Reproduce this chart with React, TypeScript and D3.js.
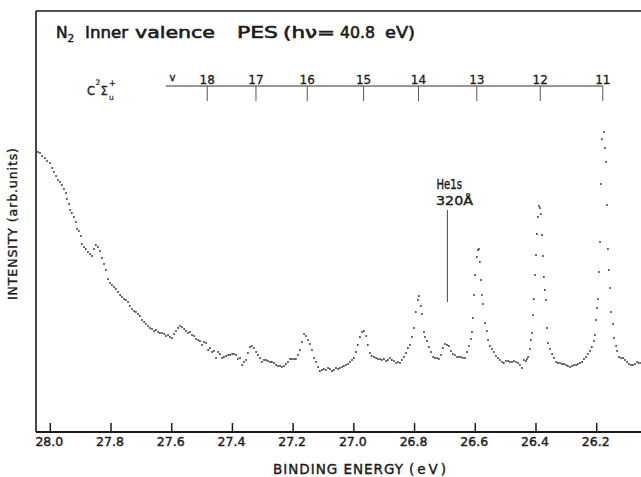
import React from "react";
import * as d3 from "d3";

// Binding energy tick labels (eV)
const energyTicks = [28.0, 27.8, 27.6, 27.4, 27.2, 27.0, 26.8, 26.6, 26.4, 26.2];

// Vibrational ladder of the C 2Σu+ state
const vibLevels = [18, 17, 16, 15, 14, 13, 12, 11];
const vibEnergies = [27.483, 27.3225, 27.1535, 26.968, 26.787, 26.595, 26.386, 26.18];
const ladderStart = 27.619;

// He 1s 320 Å marker
const heMarkerEnergy = 26.692;
const heMarkerTop = 221;
const heMarkerBottom = 129;

// Title words
const titleWords = ["Inner", "valence", "PES", "(hν=", "40.8", "eV)"];

// Spectrum: [binding energy (eV), intensity (arb. units)]
const spectrum: [number, number][] = [
  [28.041, 279], [28.034, 278], [28.027, 275], [28.018, 273], [28.011, 270], [28.001, 268],
  [27.994, 263], [27.988, 259], [27.981, 255], [27.975, 251], [27.968, 249], [27.962, 246],
  [27.955, 242], [27.948, 238], [27.945, 232], [27.938, 227], [27.935, 221], [27.929, 218],
  [27.922, 214], [27.915, 209], [27.912, 202], [27.906, 200], [27.899, 195], [27.896, 187],
  [27.889, 184], [27.883, 182], [27.876, 179], [27.869, 177], [27.863, 175], [27.856, 182],
  [27.85, 186], [27.843, 184], [27.836, 180], [27.83, 173], [27.823, 167], [27.817, 161],
  [27.81, 152], [27.803, 148], [27.797, 146], [27.79, 144], [27.784, 142], [27.777, 139],
  [27.77, 136], [27.764, 134], [27.757, 132], [27.751, 131], [27.744, 129], [27.738, 125],
  [27.731, 122], [27.724, 120], [27.718, 119], [27.711, 117], [27.705, 115], [27.698, 111],
  [27.691, 109], [27.685, 107], [27.678, 105], [27.672, 103], [27.665, 102], [27.658, 100],
  [27.652, 101], [27.645, 99], [27.639, 98], [27.632, 98], [27.625, 97], [27.619, 95],
  [27.612, 96], [27.606, 94], [27.599, 93], [27.592, 97], [27.586, 100], [27.579, 103],
  [27.573, 105], [27.566, 104], [27.559, 102], [27.553, 100], [27.546, 98], [27.54, 99],
  [27.533, 96], [27.526, 95], [27.52, 92], [27.513, 91], [27.507, 90], [27.5, 86],
  [27.494, 89], [27.487, 88], [27.48, 81], [27.474, 83], [27.467, 79], [27.461, 80],
  [27.454, 73], [27.447, 79], [27.441, 77], [27.434, 73], [27.428, 74], [27.421, 75],
  [27.414, 76], [27.408, 76], [27.401, 77], [27.395, 77], [27.388, 76], [27.382, 72],
  [27.375, 73], [27.368, 66], [27.362, 69], [27.355, 71], [27.349, 78], [27.342, 84],
  [27.336, 85], [27.329, 83], [27.322, 79], [27.316, 76], [27.309, 73], [27.303, 69],
  [27.296, 71], [27.289, 71], [27.283, 70], [27.276, 69], [27.27, 69], [27.263, 68],
  [27.256, 66], [27.25, 65], [27.243, 65], [27.237, 64], [27.23, 65], [27.224, 67],
  [27.217, 69], [27.21, 72], [27.204, 72], [27.197, 72], [27.191, 72], [27.184, 76],
  [27.178, 81], [27.171, 89], [27.164, 97], [27.158, 95], [27.151, 91], [27.145, 87],
  [27.138, 81], [27.131, 73], [27.125, 69], [27.118, 64], [27.112, 60], [27.105, 61],
  [27.099, 62], [27.092, 61], [27.085, 63], [27.079, 62], [27.072, 60], [27.066, 61],
  [27.059, 63], [27.052, 62], [27.046, 63], [27.039, 64], [27.033, 65], [27.026, 66],
  [27.019, 67], [27.013, 69], [27.006, 71], [27.0, 73], [26.993, 79], [26.987, 86],
  [26.98, 94], [26.973, 99], [26.967, 100], [26.96, 95], [26.954, 86], [26.947, 78],
  [26.941, 75], [26.934, 74], [26.927, 73], [26.921, 72], [26.914, 72], [26.908, 71],
  [26.901, 72], [26.894, 70], [26.888, 71], [26.881, 73], [26.875, 71], [26.868, 70],
  [26.861, 68], [26.855, 69], [26.848, 68], [26.842, 71], [26.835, 74], [26.828, 78],
  [26.822, 83], [26.815, 86], [26.809, 94], [26.802, 103], [26.796, 119], [26.789, 131],
  [26.786, 135], [26.779, 125], [26.776, 117], [26.769, 99], [26.766, 94], [26.759, 90],
  [26.753, 84], [26.746, 79], [26.739, 74], [26.733, 73], [26.726, 73], [26.72, 72],
  [26.713, 76], [26.707, 83], [26.7, 87], [26.693, 86], [26.687, 85], [26.68, 80],
  [26.674, 77], [26.667, 76], [26.66, 74], [26.654, 74], [26.647, 74], [26.641, 73],
  [26.634, 73], [26.627, 79], [26.621, 85], [26.614, 92], [26.611, 99], [26.608, 113],
  [26.604, 136], [26.601, 156], [26.595, 174], [26.591, 181], [26.588, 182], [26.585, 169],
  [26.581, 151], [26.578, 136], [26.575, 127], [26.568, 108], [26.562, 100], [26.558, 91],
  [26.552, 85], [26.545, 82], [26.539, 79], [26.532, 75], [26.525, 73], [26.519, 71],
  [26.512, 69], [26.506, 68], [26.499, 70], [26.492, 70], [26.486, 69], [26.479, 69],
  [26.473, 70], [26.466, 69], [26.459, 68], [26.453, 66], [26.446, 63], [26.44, 71],
  [26.433, 70], [26.43, 72], [26.426, 74], [26.42, 82], [26.417, 91], [26.413, 98],
  [26.41, 116], [26.407, 132], [26.403, 156], [26.4, 176], [26.397, 197], [26.394, 214],
  [26.39, 225], [26.387, 223], [26.384, 217], [26.38, 196], [26.377, 175], [26.374, 154],
  [26.371, 141], [26.367, 131], [26.364, 103], [26.361, 88], [26.354, 82], [26.347, 77],
  [26.341, 73], [26.334, 69], [26.328, 68], [26.321, 68], [26.314, 67], [26.308, 67],
  [26.301, 66], [26.295, 65], [26.288, 64], [26.281, 65], [26.275, 66], [26.268, 66],
  [26.262, 67], [26.255, 68], [26.248, 69], [26.242, 72], [26.235, 74], [26.229, 77],
  [26.222, 80], [26.216, 84], [26.209, 90], [26.206, 96], [26.202, 111], [26.199, 123],
  [26.196, 132], [26.193, 159], [26.189, 189], [26.186, 247], [26.183, 292], [26.176, 299],
  [26.173, 283], [26.169, 269], [26.166, 226], [26.163, 182], [26.16, 161], [26.156, 143],
  [26.153, 119], [26.146, 107], [26.143, 93], [26.136, 85], [26.133, 80], [26.127, 74],
  [26.12, 73], [26.113, 73], [26.107, 71], [26.1, 69], [26.094, 67], [26.087, 66],
  [26.081, 66], [26.074, 67], [26.067, 69], [26.061, 68], [26.054, 68],
];

const W = 641;
const H = 477;
const FONT = "'DejaVu Sans', sans-serif";
const INK = "#1a1a1a";

// layout of title words: [x start, width]
const titleLayout: [number, number][] = [
  [85, 43], [135, 80], [237, 41], [283, 52], [340, 35], [385, 30],
];

export default function App() {
  const x = d3.scaleLinear().domain([28.0, 26.2]).range([50.3, 596.7]);
  const y = d3.scaleLinear().domain([0, 420]).range([431, 11]);
  const frameLeft = 36;
  const frameTop = 11;
  const axisY = 432;
  const ladderY = 86;

  const txt = (extra: any = {}) => ({
    fontFamily: FONT,
    fill: INK,
    stroke: INK,
    strokeWidth: 0.4,
    ...extra,
  });

  return (
    <svg
      width={W}
      height={H}
      viewBox={`0 0 ${W} ${H}`}
      style={{ position: "absolute", left: 0, top: 0, background: "#fff" }}
    >
      <rect x={0} y={0} width={W} height={H} fill="#fff" />
      {/* frame */}
      <line x1={frameLeft} y1={frameTop} x2={W} y2={frameTop} stroke={INK} strokeWidth={1.6} />
      <line x1={frameLeft} y1={frameTop} x2={frameLeft} y2={axisY} stroke={INK} strokeWidth={1.6} />
      <line x1={frameLeft} y1={axisY} x2={W} y2={axisY} stroke={INK} strokeWidth={1.8} />

      {/* x ticks */}
      {energyTicks.map((t) => (
        <g key={t}>
          <line x1={x(t)} x2={x(t)} y1={axisY} y2={axisY - 9} stroke={INK} strokeWidth={1.5} />
          <text x={x(t) - 1} y={446} textAnchor="middle" fontSize={12.5} {...txt()}>
            {t.toFixed(1)}
          </text>
        </g>
      ))}

      {/* axis titles */}
      <text x={273} y={474} fontSize={13.5} textLength={130} lengthAdjust="spacing" {...txt()}>
        BINDING ENERGY
      </text>
      <text x={409} y={474} fontSize={13.5} textLength={37} lengthAdjust="spacing" {...txt()}>
        (eV)
      </text>
      <text
        transform="translate(17,224) rotate(-90)"
        textAnchor="middle"
        fontSize={12.5}
        textLength={152}
        lengthAdjust="spacing"
        {...txt()}
      >
        INTENSITY (arb.units)
      </text>

      {/* title */}
      <text x={56} y={38} fontSize={15.5} {...txt({ strokeWidth: 0.6 })}>N</text>
      <text x={67.5} y={42} fontSize={10.5} {...txt()}>2</text>
      {titleWords.map((w, i) => (
        <text key={w} x={titleLayout[i][0]} y={38} fontSize={16} textLength={titleLayout[i][1]}
          lengthAdjust="spacingAndGlyphs" {...txt({ strokeWidth: 0.6 })}>
          {w}
        </text>
      ))}

      {/* state label C 2Σu+ */}
      <text x={87} y={95} fontSize={11.5} {...txt({ strokeWidth: 0.3 })}>C</text>
      <text x={95.5} y={85} fontSize={7.5} {...txt({ strokeWidth: 0.2 })}>2</text>
      <text x={100.5} y={95} fontSize={11.5} {...txt({ strokeWidth: 0.3 })}>Σ</text>
      <text x={109} y={99.5} fontSize={7.5} {...txt({ strokeWidth: 0.2 })}>u</text>
      <text x={109} y={86} fontSize={8} {...txt({ strokeWidth: 0.3 })}>+</text>

      {/* vibrational ladder */}
      <line x1={x(ladderStart)} x2={x(vibEnergies[vibEnergies.length - 1])} y1={ladderY} y2={ladderY}
        stroke="#333" strokeWidth={1} />
      <text x={x(ladderStart) + 3.5} y={80.5} fontSize={10} {...txt()}>v</text>
      {vibLevels.map((v, i) => (
        <g key={v}>
          <line x1={x(vibEnergies[i])} x2={x(vibEnergies[i])} y1={ladderY} y2={ladderY + 15}
            stroke="#555" strokeWidth={1} />
          <text x={x(vibEnergies[i])} y={84} textAnchor="middle" fontSize={12} {...txt({ strokeWidth: 0.3 })}>
            {v}
          </text>
        </g>
      ))}

      {/* He 1s 320 Å marker */}
      <line x1={x(heMarkerEnergy)} x2={x(heMarkerEnergy)} y1={y(heMarkerTop)} y2={y(heMarkerBottom)}
        stroke="#444" strokeWidth={1} />
      <text x={436.5} y={189} fontSize={14} textLength={25.5} lengthAdjust="spacingAndGlyphs" {...txt()}>
        He1s
      </text>
      <text x={436} y={205} fontSize={13} textLength={37} lengthAdjust="spacingAndGlyphs" {...txt()}>
        320Å
      </text>

      {/* data points */}
      {spectrum.map(([e, c], i) => (
        <rect key={i} x={x(e) - 0.8} y={y(c) - 0.8} width={1.6} height={1.6} fill="#222" />
      ))}
    </svg>
  );
}
